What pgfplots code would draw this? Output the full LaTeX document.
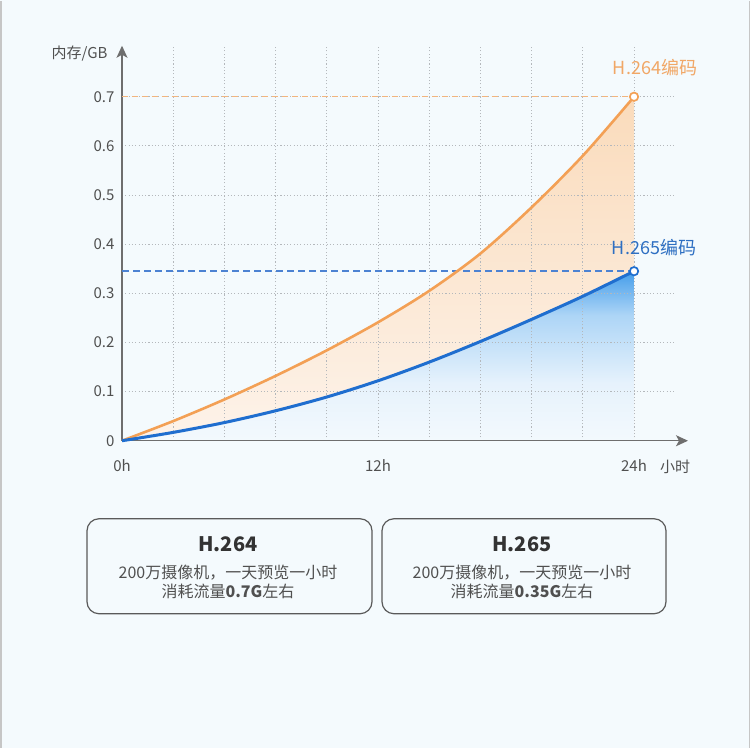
\documentclass[border=0pt]{standalone}
\usepackage{fontspec}
\setmainfont{Noto Sans CJK SC}
\usepackage{pgfplots}
\pgfplotsset{compat=1.18}
\usetikzlibrary{arrows.meta}
\definecolor{bg}{HTML}{F4FAFD}
\definecolor{txt}{HTML}{505050}
\definecolor{txtdark}{HTML}{333333}
\definecolor{boxgray}{HTML}{5A5A5A}
\definecolor{axisgray}{HTML}{6E6E6E}
\definecolor{gridgray}{HTML}{B4B8BC}
\definecolor{orangeline}{HTML}{F3A055}
\definecolor{orangelab}{HTML}{F1A766}
\definecolor{orangedash}{HTML}{F2B57E}
\definecolor{orangetop}{HTML}{FADBBB}
\definecolor{orangebot}{HTML}{FDF3EA}
\definecolor{blueline}{HTML}{1F6ECF}
\definecolor{bluelab}{HTML}{2E6FC2}
\definecolor{bluedash}{HTML}{4C82D2}
\definecolor{bshA}{HTML}{F3F9FD}
\definecolor{bshB}{HTML}{E6F2FC}
\definecolor{bshC}{HTML}{ADD5F6}
\definecolor{bshD}{HTML}{449DEA}
\pgfdeclareverticalshading{blueshade}{100bp}{color(0bp)=(bshA); color(25bp)=(bshA); color(42bp)=(bshB); color(62bp)=(bshC); color(75bp)=(bshD); color(100bp)=(bshD)}
\pgfdeclareverticalshading{orangeshade}{100bp}{color(0bp)=(orangebot); color(25bp)=(orangebot); color(75bp)=(orangetop); color(100bp)=(orangetop)}
\pagecolor{bg}
\begin{document}
\begin{tikzpicture}
\path (0,0) rectangle (750pt,747pt);
\draw[gray!45, line width=1.5pt] (0.75pt,0) -- (0.75pt,747pt);
\draw[gray!45, line width=1.5pt] (749.25pt,0) -- (749.25pt,747pt);
\begin{axis}[
  at={(122pt,307pt)}, anchor=south west,
  scale only axis, width=553pt, height=395pt,
  xmin=0, xmax=25.92, ymin=0, ymax=0.8038,
  axis x line=bottom, axis y line=left,
  axis line style={axisgray, line width=1.4pt},
  x axis line style={-{Stealth[length=12pt,width=11pt,inset=3pt]}, shorten >=-13pt},
  y axis line style={-{Stealth[length=12pt,width=11pt,inset=3pt]}},
  xtick={0,2.4,4.8,7.2,9.6,12,14.4,16.8,19.2,21.6,24},
  xticklabels={0h,,,,,12h,,,,,24h},
  ytick={0,0.1,0.2,0.3,0.4,0.5,0.6,0.7},
  yticklabels={0,0.1,0.2,0.3,0.4,0.5,0.6,0.7},
  major tick length=0pt,
  grid=major,
  major grid style={draw=gridgray, dash pattern=on 1.1pt off 2.2pt, line width=1pt},
  tick label style={font=\fontsize{15}{18}\selectfont, text=txt},
  xticklabel style={yshift=-15pt},
  yticklabel style={xshift=-4pt},
  set layers,
  clip=false,
]
\addplot[smooth, draw=none, shade, shading=orangeshade, on layer=axis background] coordinates {
  (0,0) (2.4,0.040) (4.8,0.084) (7.2,0.132) (9.6,0.184) (12,0.241) (14.4,0.305) (16.8,0.381) (19.2,0.475) (21.6,0.580) (24,0.700)
} \closedcycle;
\addplot[smooth, draw=none, shade, shading=blueshade, on layer=axis background] coordinates {
  (0,0) (2.4,0.017) (4.8,0.037) (7.2,0.061) (9.6,0.089) (12,0.122) (14.4,0.160) (16.8,0.202) (19.2,0.247) (21.6,0.294) (24,0.345)
} \closedcycle;
\addplot[draw=orangedash, dash pattern=on 6pt off 4pt, line width=1.3pt] coordinates {(0,0.7) (24,0.7)};
\addplot[draw=bluedash, dash pattern=on 7pt off 4pt, line width=1.5pt] coordinates {(0,0.345) (24,0.345)};
\addplot[draw=orangeline, line width=2.6pt, smooth] coordinates {
  (0,0) (2.4,0.040) (4.8,0.084) (7.2,0.132) (9.6,0.184) (12,0.241) (14.4,0.305) (16.8,0.381) (19.2,0.475) (21.6,0.580) (24,0.700)
};
\addplot[draw=blueline, line width=3pt, smooth] coordinates {
  (0,0) (2.4,0.017) (4.8,0.037) (7.2,0.061) (9.6,0.089) (12,0.122) (14.4,0.160) (16.8,0.202) (19.2,0.247) (21.6,0.294) (24,0.345)
};
\addplot[only marks, mark=*, mark size=4.2pt, mark options={fill=white, draw=orangeline, line width=1.7pt}] coordinates {(24,0.7)};
\addplot[only marks, mark=*, mark size=4.2pt, mark options={fill=white, draw=blueline, line width=1.7pt}] coordinates {(24,0.345)};
\end{axis}
\node[anchor=east, text=txt, font=\fontsize{15}{18}\selectfont] at (111pt,694pt) {内存/GB};
\node[text=txt, font=\fontsize{15}{18}\selectfont] at (675pt,281pt) {小时};
\node[text=orangelab, font=\fontsize{18}{20}\selectfont] at (655pt,680pt) {H.264编码};
\node[text=bluelab, font=\fontsize{18}{20}\selectfont] at (654pt,500pt) {H.265编码};
\draw[boxgray, line width=1.2pt, rounded corners=12pt] (87pt,134pt) rectangle (372pt,229pt);
\draw[boxgray, line width=1.2pt, rounded corners=12pt] (382pt,134pt) rectangle (666pt,229pt);
\node[text=txtdark, font=\fontsize{20}{22}\selectfont\bfseries] at (228pt,204pt) {H.264};
\node[text=txt, font=\fontsize{16}{18}\selectfont] at (228pt,175pt) {200万摄像机，一天预览一小时};
\node[text=txt, font=\fontsize{16}{18}\selectfont] at (228pt,156pt) {消耗流量\textbf{0.7G}左右};
\node[text=txtdark, font=\fontsize{20}{22}\selectfont\bfseries] at (522pt,204pt) {H.265};
\node[text=txt, font=\fontsize{16}{18}\selectfont] at (522pt,175pt) {200万摄像机，一天预览一小时};
\node[text=txt, font=\fontsize{16}{18}\selectfont] at (522pt,156pt) {消耗流量\textbf{0.35G}左右};
\end{tikzpicture}
\end{document}
